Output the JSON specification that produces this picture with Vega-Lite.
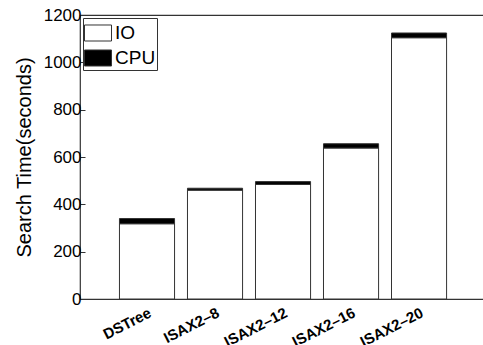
{
  "$schema": "https://vega.github.io/schema/vega-lite/v6.json",
  "width": 412,
  "height": 284,
  "autosize": "none",
  "padding": {"left": 80, "top": 15, "right": 0, "bottom": 46},
  "background": "white",
  "config": {
    "font": "Liberation Sans",
    "view": {"stroke": "#333", "strokeWidth": 1.2},
    "axis": {"grid": false, "domain": false, "tickColor": "#333", "labelColor": "black", "titleColor": "black", "labelFont": "Liberation Sans", "titleFont": "Liberation Sans"}
  },
  "data": {
    "values": [
      {"method": "DSTree", "series": "IO", "time": 318},
      {"method": "DSTree", "series": "CPU", "time": 22},
      {"method": "ISAX2–8", "series": "IO", "time": 460},
      {"method": "ISAX2–8", "series": "CPU", "time": 8},
      {"method": "ISAX2–12", "series": "IO", "time": 484},
      {"method": "ISAX2–12", "series": "CPU", "time": 12},
      {"method": "ISAX2–16", "series": "IO", "time": 638},
      {"method": "ISAX2–16", "series": "CPU", "time": 18},
      {"method": "ISAX2–20", "series": "IO", "time": 1104},
      {"method": "ISAX2–20", "series": "CPU", "time": 20}
    ]
  },
  "mark": {"type": "bar", "stroke": "#333", "strokeWidth": 1},
  "encoding": {
    "x": {
      "field": "method", "type": "nominal", "sort": null,
      "scale": {"paddingInner": 0.19, "paddingOuter": 0.624, "align": 0.465},
      "axis": {"orient": "bottom", "title": null, "labelAngle": -27, "labelAlign": "right", "labelBaseline": "top", "labelFontSize": 15, "labelFontWeight": "bold", "tickSize": -5, "labelPadding": 11}
    },
    "y": {
      "field": "time", "type": "quantitative", "stack": "zero",
      "scale": {"domain": [0, 1200], "nice": false},
      "axis": {"title": "Search Time(seconds)", "titleFontSize": 20, "titleFontWeight": "normal", "labelFontSize": 17, "format": "d", "values": [0, 200, 400, 600, 800, 1000, 1200], "tickSize": -5, "labelPadding": 4, "titlePadding": 9}
    },
    "color": {
      "field": "series", "type": "nominal",
      "scale": {"domain": ["IO", "CPU"], "range": ["white", "black"]},
      "legend": {"title": null, "orient": "top-left", "offset": 3, "strokeColor": "#333", "fillColor": "white", "padding": 1, "labelFontSize": 19, "symbolType": "M-1,-0.593H1V0.593H-1Z", "symbolSize": 729, "symbolStrokeColor": "#333", "symbolStrokeWidth": 1, "rowPadding": -3, "labelOffset": 3}
    },
    "order": {"field": "series", "sort": "descending"}
  }
}
